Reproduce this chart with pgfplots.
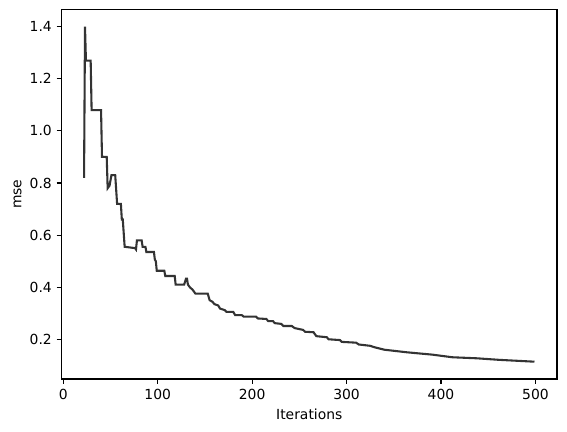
\documentclass[border=0pt]{standalone}
\usepackage{fontspec}
\setmainfont{DejaVu Sans}
\usepackage{pgfplots}
\pgfplotsset{compat=1.18}
\begin{document}
\begin{tikzpicture}
\begin{axis}[name=ax,
  scale only axis, width=356.7pt, height=266pt,
  xmin=-1.85, xmax=522.85, ymin=0.0476, ymax=1.466,
  xtick={0,100,200,300,400,500},
  ytick={0.2,0.4,0.6,0.8,1.0,1.2,1.4},
  yticklabel style={/pgf/number format/.cd,fixed,fixed zerofill,precision=1},
  /pgf/number format/assume math mode=true,
  tick label style={font=\fontsize{10}{12}\selectfont},
  label style={font=\fontsize{10}{12}\selectfont},
  tick pos=left, tick align=outside,
  major tick length=3.5pt,
  every tick/.style={line width=0.8pt, black},
  axis line style={line width=0.8pt},
  xlabel={Iterations}, ylabel={mse},
  xlabel style={yshift=0pt},
  ylabel style={yshift=-1pt},
]
\addplot[no marks, line width=1.5pt, color=black!80] coordinates {
(22,0.82)(23,1.40)(24,1.27)(29,1.27)(30,1.08)(40,1.08)(41,0.90)(46,0.90)(47,0.78)(49,0.79)(51,0.83)(55,0.83)(57,0.72)(61,0.72)(62,0.66)(63,0.66)(65,0.555)(76,0.55)(77,0.545)(78,0.58)(83,0.58)(84,0.555)(87,0.555)(88,0.535)(96,0.535)(97,0.505)(98,0.50)(99,0.463)(107,0.463)(108,0.443)(118,0.443)(119,0.41)(128,0.41)(130,0.433)(131,0.433)(132,0.41)(134,0.40)(137,0.39)(140,0.375)(153,0.375)(155,0.35)(158,0.344)(160,0.335)(164,0.33)(166,0.318)(171,0.312)(173,0.305)(180,0.305)(182,0.293)(189,0.293)(191,0.287)(204,0.287)(206,0.28)(215,0.278)(217,0.27)(222,0.27)(224,0.262)(231,0.259)(233,0.251)(242,0.251)(245,0.243)(254,0.236)(256,0.229)(265,0.227)(268,0.212)(279,0.208)(281,0.2)(293,0.197)(295,0.19)(310,0.187)(313,0.18)(325,0.175)(329,0.17)(340,0.16)(364,0.15)(391,0.141)(412,0.131)(438,0.127)(462,0.121)(499,0.114)
};
\end{axis}
\path ([shift={(-44.3pt,-38.1pt)}]ax.south west) rectangle ([shift={(7.2pt,6.84pt)}]ax.north east);
\end{tikzpicture}
\end{document}
